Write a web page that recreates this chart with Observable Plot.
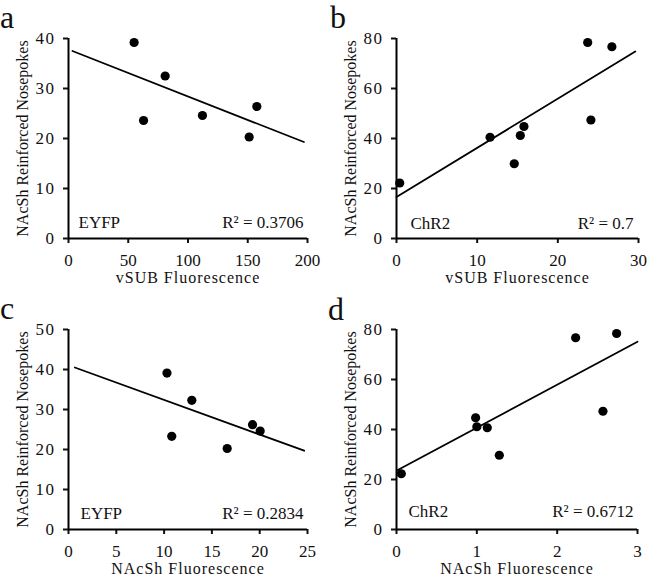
<!DOCTYPE html>
<html><head><meta charset="utf-8">
<script src="https://cdn.jsdelivr.net/npm/d3@7"></script>
<script src="https://cdn.jsdelivr.net/npm/@observablehq/plot@0.6"></script>
<style>
body{margin:0;background:#fff;}
#wrap{position:relative;width:653px;height:588px;font-family:"Liberation Serif",serif;}
.panel{position:absolute;}
.panel svg, .panel svg text{font-family:"Liberation Serif",serif !important;}
#letters{position:absolute;left:0;top:0;pointer-events:none;}
</style>
</head><body><div id="wrap"></div>
<script>
// ---- data ----
const panelLetters = ["a", "b", "c", "d"];
const yTitle = "NAcSh Reinforced Nosepokes";
const xTitles = ["vSUB Fluorescence", "vSUB Fluorescence", "NAcSh Fluorescence", "NAcSh Fluorescence"];
const groups = ["EYFP", "ChR2", "EYFP", "ChR2"];
const r2Labels = ["R\u00B2 = 0.3706", "R\u00B2 = 0.7", "R\u00B2 = 0.2834", "R\u00B2 = 0.6712"];

const aX = [54.9, 62.8, 80.9, 112.1, 151.2, 157.6];
const aY = [39.2, 23.6, 32.5, 24.6, 20.3, 26.4];
const aFitX = [3.3, 197];
const aFitY = [37.5, 19.3];
const aXTicks = [0, 50, 100, 150, 200];
const aYTicks = [0, 10, 20, 30, 40];

const bX = [0.4, 11.6, 14.6, 15.35, 15.8, 23.7, 24.1, 26.7];
const bY = [22.2, 40.5, 29.9, 41.2, 44.8, 78.4, 47.4, 76.7];
const bFitX = [0, 29.6];
const bFitY = [16.6, 74.8];
const bXTicks = [0, 10, 20, 30];
const bYTicks = [0, 20, 40, 60, 80];

const cX = [10.3, 10.8, 12.9, 16.6, 19.25, 20.05];
const cY = [39.1, 23.3, 32.3, 20.25, 26.2, 24.6];
const cFitX = [0.66, 24.65];
const cFitY = [40.5, 19.7];
const cXTicks = [0, 5, 10, 15, 20, 25];
const cYTicks = [0, 10, 20, 30, 40, 50];

const dX = [0.06, 0.985, 1.0, 1.13, 1.28, 2.23, 2.57, 2.74];
const dY = [22.3, 44.7, 41.1, 40.7, 29.7, 76.7, 47.3, 78.4];
const dFitX = [0.01, 3.0];
const dFitY = [23.7, 75.1];
const dXTicks = [0, 1, 2, 3];
const dYTicks = [0, 20, 40, 60, 80];

// ---- layout ----
const panels = [
  {x: aX, y: aY, fx: aFitX, fy: aFitY, xt: aXTicks, yt: aYTicks, left: 0, top: 0, width: 326, height: 295, ml: 68, mr: 19, mt: 38, mb: 57, gdx: 10, gdy: -11, rdx: -4},
  {x: bX, y: bY, fx: bFitX, fy: bFitY, xt: bXTicks, yt: bYTicks, left: 326, top: 0, width: 327, height: 295, ml: 70, mr: 15, mt: 38, mb: 57, gdx: 14, gdy: -10, rdx: -5},
  {x: cX, y: cY, fx: cFitX, fy: cFitY, xt: cXTicks, yt: cYTicks, left: 0, top: 292, width: 326, height: 296, ml: 68, mr: 19, mt: 37, mb: 59, gdx: 12, gdy: -11, rdx: -4},
  {x: dX, y: dY, fx: dFitX, fy: dFitY, xt: dXTicks, yt: dYTicks, left: 326, top: 292, width: 327, height: 296, ml: 70, mr: 16, mt: 37, mb: 59, gdx: 12, gdy: -13, rdx: -4}
];

const wrap = document.getElementById("wrap");
const font = "Liberation Serif, serif";
const fmt = d => String(d);

panels.forEach((p, k) => {
  const pts = p.x.map((x, i) => ({x, y: p.y[i]}));
  const fit = p.fx.map((x, i) => ({x, y: p.fy[i]}));
  const xd = [p.xt[0], p.xt[p.xt.length - 1]];
  const yd = [p.yt[0], p.yt[p.yt.length - 1]];
  const chart = Plot.plot({
    width: p.width, height: p.height,
    marginLeft: p.ml, marginRight: p.mr, marginTop: p.mt, marginBottom: p.mb,
    style: {fontFamily: font, fontSize: "16px", color: "#111", background: "transparent", overflow: "visible"},
    x: {domain: xd, label: null},
    y: {domain: yd, label: null},
    marks: [
      Plot.axisX({ticks: p.xt, tickFormat: fmt, tickSize: 5, tickPadding: 10, strokeWidth: 2, label: null, fontSize: 17}),
      Plot.axisY({ticks: p.yt, tickFormat: fmt, tickSize: 5, tickPadding: 8, strokeWidth: 2, label: null, fontSize: 17}),
      Plot.ruleY([yd[0]], {strokeWidth: 2, stroke: "#000"}),
      Plot.ruleX([xd[0]], {strokeWidth: 2, stroke: "#000"}),
      Plot.line(fit, {x: "x", y: "y", stroke: "#000", strokeWidth: 1.8}),
      Plot.dot(pts, {x: "x", y: "y", r: 4.6, fill: "#000", stroke: "none"}),
      Plot.text([xTitles[k]], {text: d => d, frameAnchor: "bottom", textAnchor: "middle", dy: 44, fontSize: 16, fill: "#111"}),
      Plot.text([yTitle], {text: d => d, frameAnchor: "left", textAnchor: "middle", rotate: -90, dx: -46, fontSize: 16, fill: "#111"}),
      Plot.text([groups[k]], {text: d => d, frameAnchor: "bottom-left", textAnchor: "start", lineAnchor: "bottom", dx: p.gdx, dy: p.gdy, fontSize: 17, fill: "#111"}),
      Plot.text([r2Labels[k]], {text: d => d, frameAnchor: "bottom-right", textAnchor: "end", lineAnchor: "bottom", dx: p.rdx, dy: p.gdy, fontSize: 17, fill: "#111"})
    ]
  });
  const div = document.createElement("div");
  div.className = "panel";
  div.style.left = p.left + "px";
  div.style.top = p.top + "px";
  div.appendChild(chart);
  wrap.appendChild(div);
  const svg = d3.select(chart);
  svg.selectAll("text").style("font-family", "'Liberation Serif', serif");
  svg.selectAll("g[aria-label='y-axis tick label'] text").attr("letter-spacing", "1.5");
  svg.selectAll("text").filter(function () { return this.textContent === xTitles[k]; }).attr("letter-spacing", "1");
});

// panel letters
const lsvg = d3.select(wrap).append("svg").attr("id", "letters").attr("width", 653).attr("height", 588);
const letterPos = [[0, 28], [330, 28], [0, 319], [328, 320]];
panelLetters.forEach((t, i) => {
  lsvg.append("text").attr("x", letterPos[i][0]).attr("y", letterPos[i][1])
    .attr("font-family", font).attr("font-size", 32).attr("fill", "#111").text(t);
});
</script>
</body></html>
